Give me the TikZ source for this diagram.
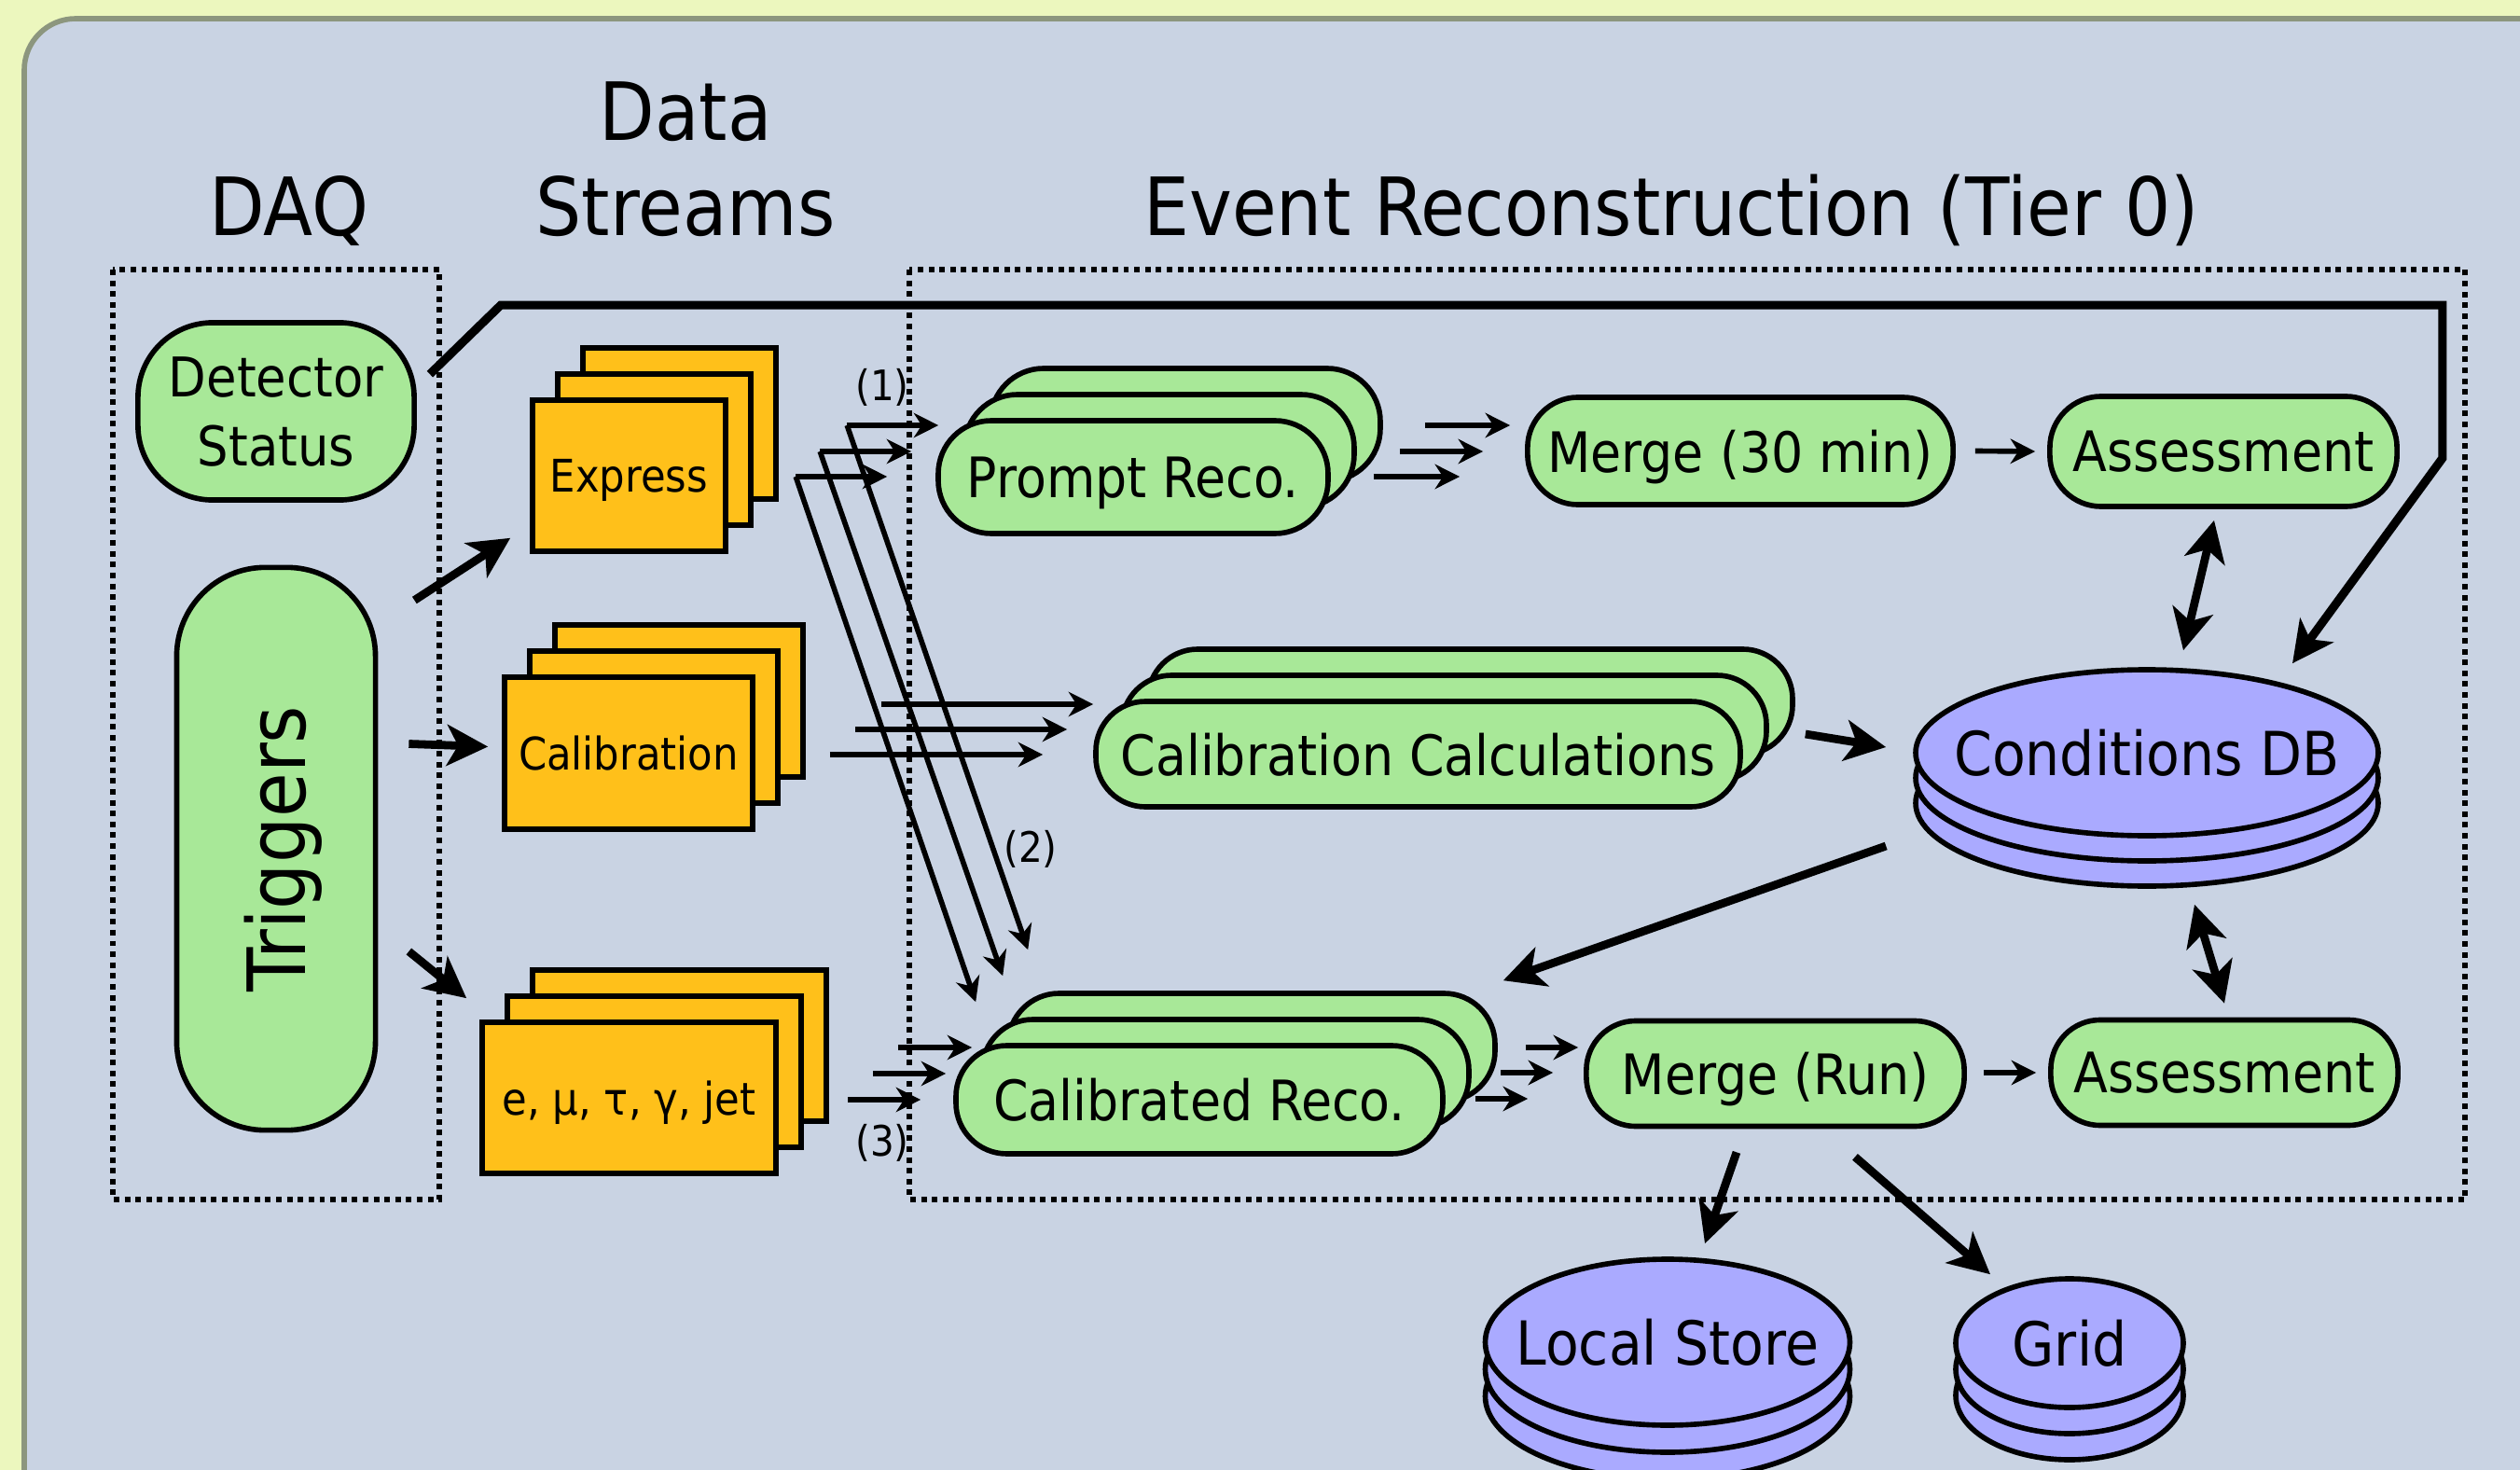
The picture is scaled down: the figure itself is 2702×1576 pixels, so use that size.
\documentclass[tikz,border=0pt]{standalone}
\usepackage{fontspec}
\setmainfont{DejaVu Sans Condensed}
\usetikzlibrary{arrows.meta,positioning,shapes.geometric}
\definecolor{bgyellow}{RGB}{236,247,190}
\definecolor{panelblue}{RGB}{201,211,227}
\definecolor{panelrim}{RGB}{140,150,126}
\definecolor{recogreen}{RGB}{168,232,152}
\definecolor{streamorange}{RGB}{255,192,26}
\definecolor{dbpurple}{RGB}{170,170,255}
\tikzset{
  pill/.style={draw=black, line width=1.6pt, fill=recogreen, inner sep=0pt, text depth=0pt,
    font=\fontsize{17}{21}\selectfont},
  card/.style={draw=black, line width=1.6pt, fill=streamorange, inner sep=0pt, text depth=0pt,
    font=\fontsize{13.7}{16}\selectfont},
  disc/.style={ellipse, draw=black, line width=1.6pt, fill=dbpurple, inner sep=0pt},
  disctext/.style={font=\fontsize{18.5}{22}\selectfont},
  titletext/.style={font=\fontsize{24.5}{29}\selectfont},
  numtext/.style={font=\fontsize{12.8}{15}\selectfont},
  zone/.style={draw=black, line width=1.7pt, dash pattern=on 1.7pt off 1.6pt},
  bigarrow/.style={line width=2.5pt, -{Stealth[length=12.5pt,width=12.5pt,inset=3.4pt]}},
  bigboth/.style={line width=2.5pt, {Stealth[length=12.5pt,width=12.5pt,inset=3.4pt]}-{Stealth[length=12.5pt,width=12.5pt,inset=3.4pt]}},
  smallarrow/.style={line width=1.6pt, -{Stealth[length=7.5pt,width=7.5pt,inset=2.4pt]}}
}
\newcommand{\cardstack}[6]{\node[card, minimum width={#4*0.01cm}, minimum height={#5*0.01cm}] (#1c) at ({#2+54},{#3-56}) {};
					\node[card, minimum width={#4*0.01cm}, minimum height={#5*0.01cm}] (#1b) at ({#2+27},{#3-28}) {};
					\node[card, minimum width={#4*0.01cm}, minimum height={#5*0.01cm}] (#1) at (#2,#3) {#6};}
\newcommand{\pillstack}[6]{\node[pill, rounded corners={#5*0.0047cm}, minimum width={#4*0.01cm}, minimum height={#5*0.01cm}] (#1c) at ({#2+56},{#3-56}) {};
					\node[pill, rounded corners={#5*0.0047cm}, minimum width={#4*0.01cm}, minimum height={#5*0.01cm}] (#1b) at ({#2+28},{#3-28}) {};
					\node[pill, rounded corners={#5*0.0047cm}, minimum width={#4*0.01cm}, minimum height={#5*0.01cm}] (#1) at (#2,#3) {#6};}
\newcommand{\dbstack}[7]{\node[disc, minimum width={#4*0.01cm}, minimum height={#5*0.01cm}] (#1c) at (#2,{#3+2*#6}) {};
					\node[disc, minimum width={#4*0.01cm}, minimum height={#5*0.01cm}] (#1b) at (#2,{#3+#6}) {};
					\node[disc, minimum width={#4*0.01cm}, minimum height={#5*0.01cm}] (#1) at (#2,#3) {};
					\node[disctext] (#1text) at (#1) {#7};}

\begin{document}
\begin{tikzpicture}[x=0.01cm, y=-0.01cm]
				
				\useasboundingbox (0,0) rectangle (2702,1576);
				\fill[bgyellow] (0,0) rectangle (2702,1576);
				\begin{scope}
					\clip (0,0) rectangle (2702,1576);
					\draw[panelrim, line width=1.6pt, fill=panelblue, rounded corners=0.55cm] (26,20) rectangle (2760,1650);
				\end{scope}
				
				\node[titletext, anchor=base] (daqtitle) at (310,252) {DAQ};
				\node[titletext, align=center] (streamtitle) at (735,171) {Data\\Streams};
				\node[titletext, anchor=base] (recotitle) at (1792,252) {Event Reconstruction (Tier 0)};
				
				\node[pill, rounded corners=0.8cm, minimum width=2.96cm, minimum height=1.9cm, align=center,
					font=\fontsize{16.7}{21}\selectfont] (det) at (296,441) {Detector\\Status};
				\node[pill, rounded corners=0.95cm, minimum width=2.13cm, minimum height=6.03cm] (trig) at (296,910) {};
				\node[titletext, rotate=90, anchor=base] (trigtext) at (327,910) {Triggers};
				
				\cardstack{expr}{674.5}{510}{207}{162}{Express}
				\cardstack{calib}{674}{807.5}{266}{163}{Calibration}
				\cardstack{phys}{674.5}{1177}{315}{162}{e, μ, τ, γ, jet}
				
				\pillstack{prompt}{1215}{511.5}{418}{121}{Prompt Reco.}
				\pillstack{calc}{1520.5}{808.5}{691}{113}{Calibration Calculations}
				\pillstack{calreco}{1286}{1179}{522}{116}{Calibrated Reco.}
				
				\node[pill, rounded corners=0.54cm, minimum width=4.56cm, minimum height=1.15cm] (mergehalf) at (1866,483.5) {Merge (30 min)};
				\node[pill, rounded corners=0.55cm, minimum width=3.72cm, minimum height=1.18cm] (assesstop) at (2384,484) {Assessment};
				\node[pill, rounded corners=0.53cm, minimum width=4.05cm, minimum height=1.13cm] (mergerun) at (1903.5,1151) {Merge (Run)};
				\node[pill, rounded corners=0.53cm, minimum width=3.72cm, minimum height=1.13cm] (assessbot) at (2385,1150) {Assessment};
				
				\dbstack{cond}{2302}{807}{496}{178}{27}{Conditions DB}
				\dbstack{local}{1788}{1439}{391}{178}{29}{Local Store}
				\dbstack{grid}{2219}{1440}{244}{138}{28}{Grid}
				
				\draw[bigarrow] ([shift={(39,38)}]trig.north east) -- ([shift={(-21,-17)}]expr.south west);
				\draw[bigarrow] ([shift={(33,192)}]trig.north east) -- ([shift={(-15,-7)}]calib.west);
				\draw[bigarrow] ([shift={(33,110)}]trig.east) -- ([shift={(-14,-23)}]phys.north west);
				\draw[bigarrow, line width=2.6pt] ([shift={(14,58)}]det.north east) -- ++(76,-74) -- ++(2082,0) -- ++(0,164)
					-- ([shift={(156,-4)}]cond.north);
				
				\coordinate (split1) at ([shift={(-95,-55.5)}]prompt.west);
				\coordinate (split2) at ([shift={(-124,-27.5)}]prompt.west);
				\coordinate (split3) at ([shift={(-150,-0.5)}]prompt.west);
				\draw[smallarrow] (split1) -- ([shift={(3,-55.5)}]prompt.west);
				\draw[smallarrow] (split2) -- ([shift={(-26,-27.5)}]prompt.west);
				\draw[smallarrow] (split3) -- ([shift={(-52,-0.5)}]prompt.west);
				\draw[smallarrow] (split1) -- ([shift={(80,-100)}]calreco.north west);
				\draw[smallarrow] (split2) -- ([shift={(53,-72)}]calreco.north west);
				\draw[smallarrow] (split3) -- ([shift={(24,-44)}]calreco.north west);
				
				\draw[smallarrow] ([shift={(135,-52.5)}]calib.east) -- ([shift={(0,-53.5)}]calc.west);
				\draw[smallarrow] ([shift={(107,-25.5)}]calib.east) -- ([shift={(-28,-26.5)}]calc.west);
				\draw[smallarrow] ([shift={(80,1.5)}]calib.east) -- ([shift={(-54,0.5)}]calc.west);
				
				\draw[smallarrow] ([shift={(128,-54)}]phys.east) -- ([shift={(20,-56)}]calreco.west);
				\draw[smallarrow] ([shift={(101,-26)}]phys.east) -- ([shift={(-8,-28)}]calreco.west);
				\draw[smallarrow] ([shift={(74,2)}]phys.east) -- ([shift={(-35,0)}]calreco.west);
				
				\draw[smallarrow] ([shift={(101,-55.5)}]prompt.east) -- ([shift={(-16,-27.5)}]mergehalf.west);
				\draw[smallarrow] ([shift={(74,-27.5)}]prompt.east) -- ([shift={(-45,0.5)}]mergehalf.west);
				\draw[smallarrow] ([shift={(46,-0.5)}]prompt.east) -- ([shift={(-70,27.5)}]mergehalf.west);
				
				\draw[smallarrow] ([shift={(86,-56)}]calreco.east) -- ([shift={(-6,-28)}]mergerun.west);
				\draw[smallarrow] ([shift={(59,-29)}]calreco.east) -- ([shift={(-33,-1)}]mergerun.west);
				\draw[smallarrow] ([shift={(32,-1)}]calreco.east) -- ([shift={(-60,27)}]mergerun.west);
				
				\draw[smallarrow] ([shift={(21,0)}]mergehalf.east) -- ([shift={(-13,0)}]assesstop.west);
				\draw[smallarrow] ([shift={(18,-1)}]mergerun.east) -- ([shift={(-13,0)}]assessbot.west);
				
				\draw[bigarrow] ([shift={(67,-21.5)}]calc.east) -- ([shift={(-29,-6)}]cond.west);
				\draw[bigarrow] ([shift={(-29,100)}]cond.west) -- ([shift={(62,-67)}]calreco.north east);
				\draw[bigboth] ([shift={(-10,12)}]assesstop.south) -- ([shift={(39,-18)}]cond.north);
				\draw[bigboth] ([shift={(51,17)}]condc.south) -- ([shift={(0,-15)}]assessbot.north);
				\draw[bigarrow] ([shift={(-41.5,25)}]mergerun.south) -- ([shift={(40,-14)}]local.north);
				\draw[bigarrow] ([shift={(85.5,30)}]mergerun.south) -- ([shift={(-85,-2)}]grid.north);
				
				\node[numtext] (lab1) at (946,415) {(1)};
				\node[numtext] (lab2) at (1105,910) {(2)};
				\node[numtext] (lab3) at (946,1225) {(3)};
				
				\draw[zone] (121,289) rectangle (471,1286);
				\draw[zone] (975,289) rectangle (2643,1286);
				
\end{tikzpicture}
\end{document}
